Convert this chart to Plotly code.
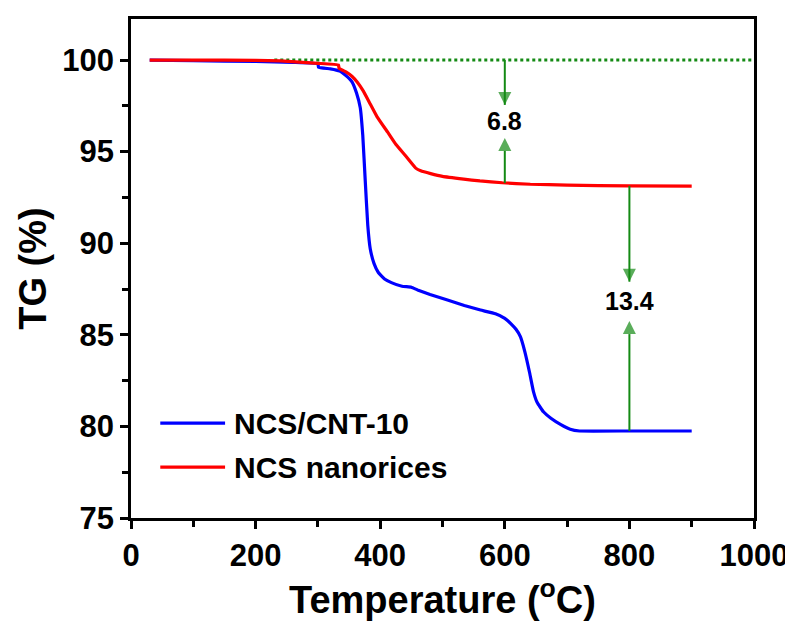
import plotly.graph_objects as go

# ---------------- data ----------------
cnt_T = [30, 100, 200, 260, 300, 301, 320, 335, 345, 355, 362, 368, 372, 376, 380, 384,
         390, 397, 407, 418, 435, 450, 460, 480, 508, 535, 561, 585, 600, 610, 618, 625,
         632, 640, 646, 652, 662, 674, 690, 705, 720, 800, 900]
cnt_TG = [100, 99.97, 99.92, 99.87, 99.8, 99.6, 99.52, 99.4, 99.15, 98.8, 98.2, 97.4, 95.9,
          93.4, 91.0, 89.7, 88.9, 88.4, 88.05, 87.85, 87.65, 87.6, 87.45, 87.2, 86.9, 86.6,
          86.35, 86.15, 85.9, 85.6, 85.3, 84.9, 84.1, 82.9, 81.9, 81.3, 80.8, 80.45, 80.1,
          79.85, 79.75, 79.75, 79.75]

ncs_T = [30, 100, 200, 240, 300, 333, 334, 345, 355, 363, 373, 384, 395, 412, 425, 440,
         457, 465, 481, 500, 534, 560, 596, 641, 700, 800, 900]
ncs_TG = [100, 100, 99.98, 99.95, 99.82, 99.73, 99.55, 99.35, 99.1, 98.8, 98.3, 97.6, 96.9,
          96.06, 95.4, 94.8, 94.1, 93.95, 93.8, 93.65, 93.5, 93.4, 93.3, 93.22, 93.17,
          93.13, 93.12]

baseline_T = [230, 1000]
baseline_TG = [100, 100]

legend_names = ["NCS/CNT-10", "NCS nanorices"]
loss_labels = ["6.8", "13.4"]
loss_T = [600, 800]
loss_label_TG = [96.65, 86.85]
# arrow (tail, head) levels at each loss_T
arrows_down_TG = [(100.0, 97.55), (93.13, 87.9)]
arrows_up_TG = [(93.28, 95.75), (79.75, 85.75)]

x_ticks = [0, 200, 400, 600, 800, 1000]
y_ticks = [75, 80, 85, 90, 95, 100]

BLUE = "#0000FF"
RED = "#FF0000"
GREEN = "#148A14"
FONT = "Liberation Sans, Arial, sans-serif"

fig = go.Figure()

fig.add_trace(go.Scatter(x=baseline_T, y=baseline_TG, mode="lines",
                         line=dict(color=GREEN, width=3, dash="dot"),
                         showlegend=False, hoverinfo="skip"))
fig.add_trace(go.Scatter(x=cnt_T, y=cnt_TG, mode="lines", name=legend_names[0],
                         line=dict(color=BLUE, width=3.2, shape="spline", smoothing=0.3),
                         showlegend=False))
fig.add_trace(go.Scatter(x=ncs_T, y=ncs_TG, mode="lines", name=legend_names[1],
                         line=dict(color=RED, width=3.2, shape="spline", smoothing=0.3),
                         showlegend=False))

# ---------------- arrows ----------------
for i, xx in enumerate(loss_T):
    for (tail, head), sym in ((arrows_down_TG[i], "arrow-down"), (arrows_up_TG[i], "arrow-up")):
        fig.add_trace(go.Scatter(
            x=[xx, xx], y=[tail, head], mode="lines+markers",
            line=dict(color=GREEN, width=2),
            marker=dict(symbol=["circle", sym], size=[0, 13], color=GREEN,
                        line=dict(width=0)),
            showlegend=False, hoverinfo="skip"))

for lbl, xx, yy in zip(loss_labels, loss_T, loss_label_TG):
    fig.add_annotation(x=xx, y=yy, xref="x", yref="y", text=lbl, showarrow=False,
                       font=dict(family=FONT, size=25, color="black", weight="bold"))

# ---------------- manual legend ----------------
leg_colors = [BLUE, RED]
leg_y = [0.19, 0.102]
for name, col, yy in zip(legend_names, leg_colors, leg_y):
    fig.add_shape(type="line", xref="paper", yref="paper", x0=0.047, x1=0.151,
                  y0=yy, y1=yy, line=dict(color=col, width=3.2))
    fig.add_annotation(x=0.162, y=yy, xref="paper", yref="paper", text=name,
                       showarrow=False, xanchor="left", yanchor="middle",
                       font=dict(family=FONT, size=30, color="black", weight="bold"))

axis_common = dict(showline=True, linecolor="black", linewidth=2.5, mirror=True,
                   ticks="outside", ticklen=8, tickwidth=2.5, tickcolor="black",
                   showgrid=False, zeroline=False, automargin=False,
                   ticklabeloverflow="allow",
                   tickfont=dict(family=FONT, size=31, color="black", weight="bold"))

fig.update_xaxes(range=[0, 1000], tickvals=x_ticks,
                 minor=dict(dtick=100, ticks="outside", ticklen=6, tickwidth=2.5,
                            tickcolor="black"),
                 title=dict(text="Temperature (<sup>o</sup>C)", standoff=7,
                            font=dict(family=FONT, size=38, color="black", weight="bold")),
                 **axis_common)
fig.update_yaxes(range=[75, 102.24], tickvals=y_ticks,
                 minor=dict(dtick=2.5, ticks="outside", ticklen=6, tickwidth=2.5,
                            tickcolor="black"),
                 title=dict(text="TG (%)", standoff=5,
                            font=dict(family=FONT, size=38, color="black", weight="bold")),
                 **axis_common)

# page body has an 8px default margin, so the figure is sized/positioned to compensate
fig.update_layout(width=785, height=623, plot_bgcolor="white", paper_bgcolor="white",
                  margin=dict(l=123, r=39, t=11, b=113), showlegend=False)

fig.write_html("out.html")
